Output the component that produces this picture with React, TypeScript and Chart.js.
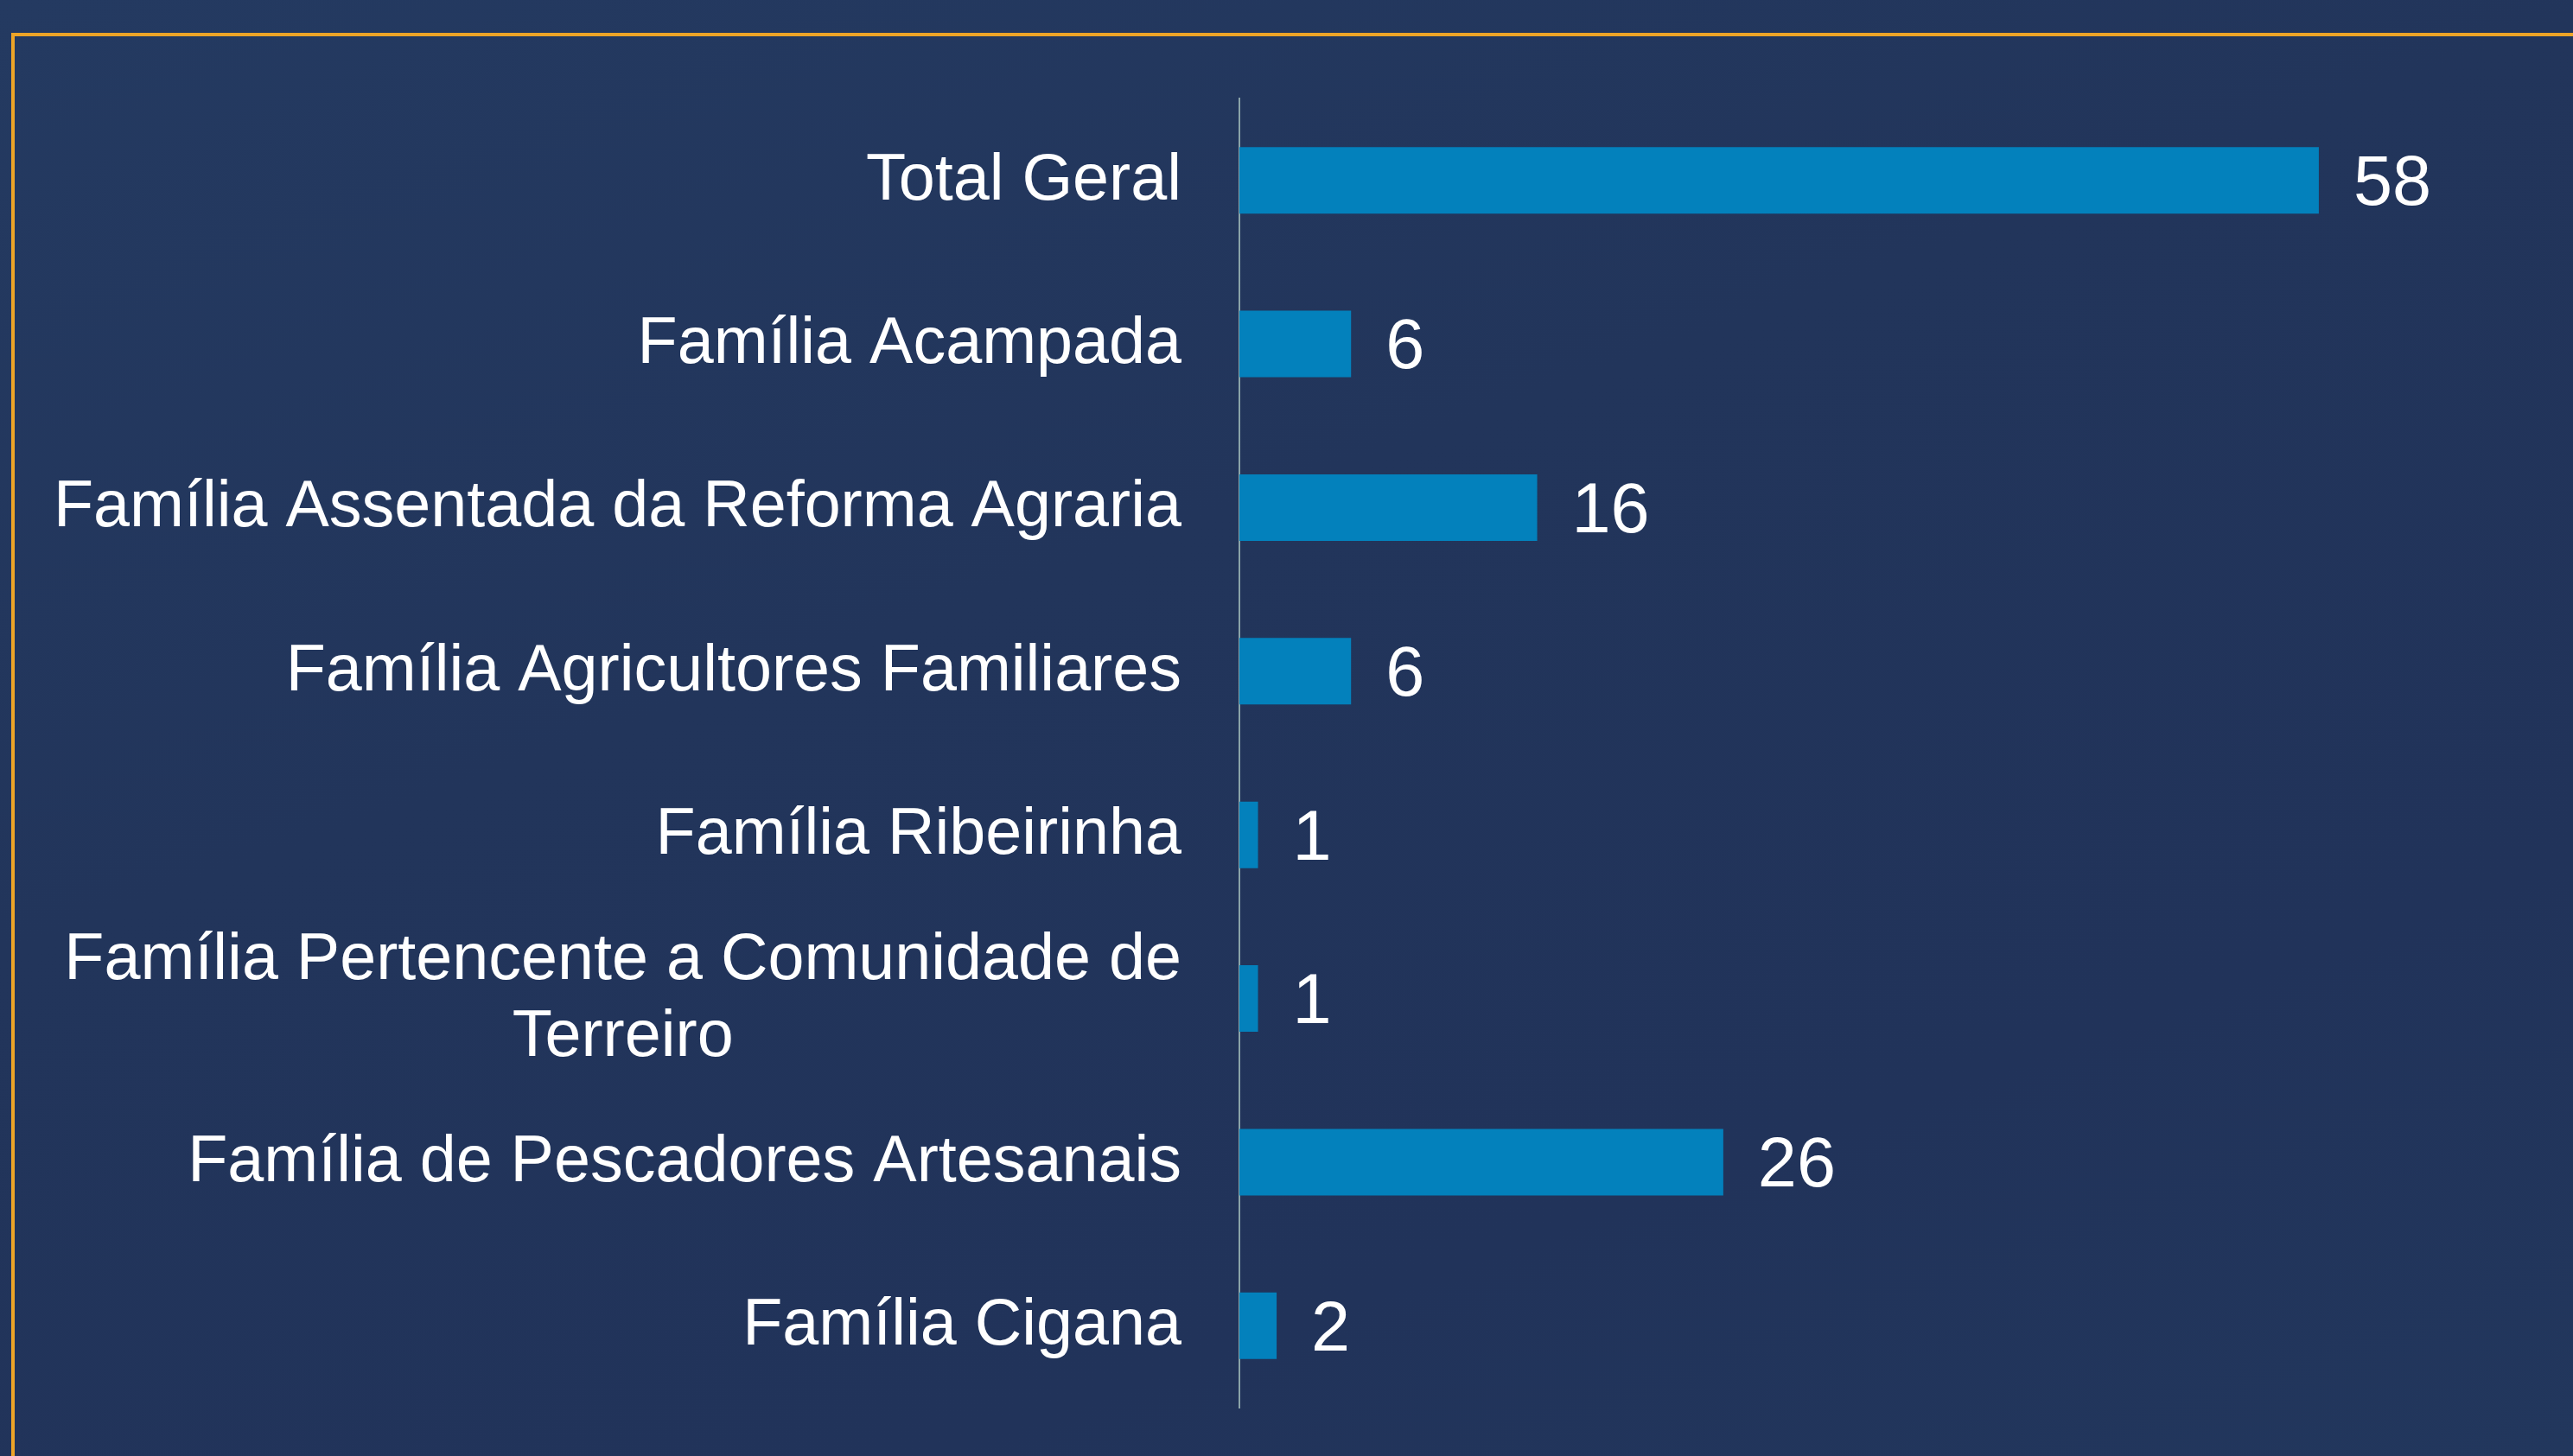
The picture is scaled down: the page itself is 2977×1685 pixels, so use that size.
import React, { useEffect, useRef } from "react";
import { Chart, registerables } from "chart.js";

Chart.register(...registerables);

const categories: (string | string[])[] = [
  "Total Geral",
  "Família Acampada",
  "Família Assentada da Reforma Agraria",
  "Família Agricultores Familiares",
  "Família Ribeirinha",
  ["Família Pertencente a Comunidade de", "Terreiro"],
  "Família de Pescadores Artesanais",
  "Família Cigana",
];
const values: number[] = [58, 6, 16, 6, 1, 1, 26, 2];

const W = 2977;
const H = 1685;
const FONT = "'Liberation Sans', Arial, Helvetica, sans-serif";

const labelPlugin = {
  id: "customLabels",
  afterDatasetsDraw(chart: any) {
    const ctx = chart.ctx;
    const ys = chart.scales.y;
    const xs = chart.scales.x;
    ctx.save();
    ctx.fillStyle = "#ffffff";
    // category labels
    ctx.font = `75.5px ${FONT}`;
    ctx.textBaseline = "middle";
    const rightEdge = 1367;
    const lineH = 89;
    categories.forEach((c, i) => {
      const yc = ys.getPixelForValue(i) + 1;
      const lines = Array.isArray(c) ? c : [c];
      const widths = lines.map((l) => ctx.measureText(l).width);
      const widest = Math.max(...widths);
      const cx = rightEdge - widest / 2;
      const startY = yc - ((lines.length - 1) * lineH) / 2;
      lines.forEach((l, k) => {
        if (lines.length === 1) {
          ctx.textAlign = "right";
          ctx.fillText(l, rightEdge, startY);
        } else {
          ctx.textAlign = "center";
          ctx.fillText(l, cx, startY + k * lineH);
        }
      });
    });
    // value labels
    ctx.font = `81px ${FONT}`;
    ctx.textAlign = "left";
    values.forEach((v, i) => {
      const x = xs.getPixelForValue(v) + 40;
      const y = ys.getPixelForValue(i) + 6;
      ctx.fillText(String(v), x, y);
    });
    ctx.restore();
  },
};

export default function App() {
  const canvasRef = useRef<HTMLCanvasElement | null>(null);

  useEffect(() => {
    document.body.style.margin = "0";
    const canvas = canvasRef.current;
    if (!canvas) return;
    const chart = new Chart(canvas, {
      type: "bar",
      data: {
        labels: categories as any,
        datasets: [
          {
            data: values,
            backgroundColor: "#0381bc",
            borderWidth: 0,
            categoryPercentage: 1,
            barPercentage: 0.407,
          },
        ],
      },
      options: {
        indexAxis: "y",
        animation: false,
        responsive: false,
        devicePixelRatio: 1,
        layout: {
          padding: { left: 0, right: W - 2726, top: 114, bottom: H - 1629 },
        },
        plugins: {
          legend: { display: false },
          tooltip: { enabled: false },
          title: { display: false },
        },
        scales: {
          x: {
            type: "linear",
            min: 0,
            max: 60,
            display: false,
          },
          y: {
            type: "category",
            position: "left",
            offset: true,
            grid: { display: false },
            ticks: { display: false },
            border: { display: true, color: "#8aa3a8", width: 2 },
            afterFit: (scale: any) => {
              scale.width = 1434;
            },
          },
        },
      },
      plugins: [labelPlugin],
    });
    return () => chart.destroy();
  }, []);

  return (
    <div
      style={{
        position: "relative",
        width: W,
        height: H,
        overflow: "hidden",
        background:
          "linear-gradient(160deg, #243a61 0%, #22355b 40%, #21335a 75%, #22375d 100%)",
      }}
    >
      <div
        style={{
          position: "absolute",
          left: 13,
          top: 38,
          width: W + 20,
          height: H + 20,
          borderLeft: "4px solid #eda427",
          borderTop: "4px solid #eda427",
          boxSizing: "border-box",
        }}
      />
      <canvas
        ref={canvasRef}
        width={W}
        height={H}
        style={{ position: "absolute", left: 0, top: 0, width: W, height: H }}
      />
    </div>
  );
}
